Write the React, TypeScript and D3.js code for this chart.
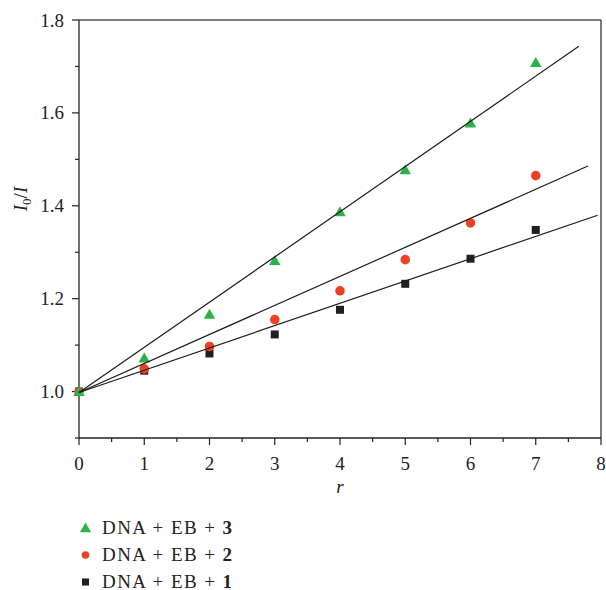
import React from "react";
import * as d3 from "d3";

const xValues = [0, 1, 2, 3, 4, 5, 6, 7];
const series3 = [1.0, 1.072, 1.166, 1.282, 1.387, 1.477, 1.578, 1.708];
const series2 = [1.0, 1.049, 1.097, 1.155, 1.217, 1.284, 1.363, 1.465];
const series1 = [1.0, 1.045, 1.082, 1.123, 1.176, 1.232, 1.286, 1.348];
const fitSlopes = [0.0973, 0.0625, 0.048];
const fitIntercepts = [0.998, 0.998, 0.998];
const fitEnds = [7.66, 7.8, 7.95];
const legendLabels = ["3", "2", "1"];
const xTicks = [0, 1, 2, 3, 4, 5, 6, 7, 8];
const yTicks = [1.0, 1.2, 1.4, 1.6, 1.8];

const GREEN = "#2db24a";
const RED = "#ee4124";
const BLACK = "#231f20";
const FONT = "'Liberation Serif', 'Times New Roman', serif";

export default function App() {
  const W = 606, H = 590;
  const x = d3.scaleLinear().domain([0, 8]).range([79, 601]);
  const y = d3.scaleLinear().domain([0.9, 1.8]).range([438, 20]);
  const line = d3.line<[number, number]>().x(d => x(d[0])).y(d => y(d[1]));
  const tri = d3.symbol().type(d3.symbolTriangle).size(58)();
  const circ = d3.symbol().type(d3.symbolCircle).size(72)();
  const sq = d3.symbol().type(d3.symbolSquare).size(64)();
  const triL = d3.symbol().type(d3.symbolTriangle).size(55)();
  const circL = d3.symbol().type(d3.symbolCircle).size(46)();
  const sqL = d3.symbol().type(d3.symbolSquare).size(50)();
  const xMinor = d3.range(0.5, 8, 1);
  const yMinor = d3.range(0.9, 1.8, 0.2);

  const markers = [
    { data: series3, path: tri, lpath: triL, color: GREEN, dy: 1 },
    { data: series2, path: circ, lpath: circL, color: RED, dy: 0 },
    { data: series1, path: sq, lpath: sqL, color: BLACK, dy: 0 },
  ];
  const drawOrder = [2, 1, 0];

  return (
    <svg width={W} height={H} style={{ position: "absolute", left: 0, top: 0, background: "#fff" }} fontFamily={FONT}>
      {/* frame */}
      <line x1={x(0)} x2={x(8)} y1={y(1.8)} y2={y(1.8)} stroke="#555" strokeWidth={1.3} />
      <line x1={x(8)} x2={x(8)} y1={y(1.8)} y2={y(0.9)} stroke="#333" strokeWidth={1.3} />
      <line x1={x(0)} x2={x(0)} y1={y(1.8)} y2={y(0.9)} stroke="#222" strokeWidth={1.3} />
      <line x1={x(0)} x2={x(8)} y1={y(0.9)} y2={y(0.9)} stroke="#222" strokeWidth={1.3} />
      {/* x ticks */}
      {xTicks.map(t => (
        <g key={"xt" + t}>
          <line x1={x(t)} x2={x(t)} y1={y(0.9)} y2={y(0.9) + 7} stroke="#222" strokeWidth={1.2} />
          <text x={x(t)} y={y(0.9) + 32} fontSize={19} textAnchor="middle" fill="#222">{t}</text>
        </g>
      ))}
      {xMinor.map(t => (
        <line key={"xm" + t} x1={x(t)} x2={x(t)} y1={y(0.9)} y2={y(0.9) + 4} stroke="#222" strokeWidth={1.2} />
      ))}
      {/* y ticks */}
      {yTicks.map(t => (
        <g key={"yt" + t}>
          <line x1={x(0) - 7} x2={x(0)} y1={y(t)} y2={y(t)} stroke="#222" strokeWidth={1.2} />
          <text x={x(0) - 15} y={y(t) + 6.5} fontSize={19} textAnchor="end" fill="#222">{t.toFixed(1)}</text>
        </g>
      ))}
      {yMinor.map(t => (
        <line key={"ym" + t} x1={x(0) - 4} x2={x(0)} y1={y(t)} y2={y(t)} stroke="#222" strokeWidth={1.2} />
      ))}
      {/* axis labels */}
      <text x={x(4)} y={y(0.9) + 55} fontSize={19} fontStyle="italic" textAnchor="middle" fill="#222">r</text>
      <text transform={`translate(27, 199) rotate(-90)`} fontSize={19} textAnchor="middle" fill="#222">
        <tspan fontStyle="italic">I</tspan>
        <tspan fontSize={13} dy={4}>0</tspan>
        <tspan dy={-4}>/</tspan>
        <tspan fontStyle="italic">I</tspan>
      </text>
      {/* markers */}
      {drawOrder.map(i => {
        const m = markers[i];
        return (
          <g key={"s" + i}>
            {m.data.map((v, j) => (
              <path key={j} d={m.path!} transform={`translate(${x(xValues[j])},${y(v) + m.dy})`} fill={m.color} />
            ))}
          </g>
        );
      })}
      {/* fit lines */}
      {fitSlopes.map((s, i) => (
        <path
          key={"fit" + i}
          d={line([[0, fitIntercepts[i]], [fitEnds[i], fitIntercepts[i] + s * fitEnds[i]]])!}
          stroke="#1a1a1a"
          strokeWidth={1.2}
          fill="none"
        />
      ))}
      {/* legend */}
      {markers.map((m, i) => (
        <g key={"lg" + i} transform={`translate(0, ${528 + i * 27})`}>
          <path d={m.lpath!} transform={`translate(85.5, ${i === 0 ? 1 : 0})`} fill={m.color} />
          <text x={102} y={5.5} fontSize={19} fill="#222" textLength={130} lengthAdjust="spacing">
            DNA + EB + <tspan fontWeight="bold">{legendLabels[i]}</tspan>
          </text>
        </g>
      ))}
    </svg>
  );
}
